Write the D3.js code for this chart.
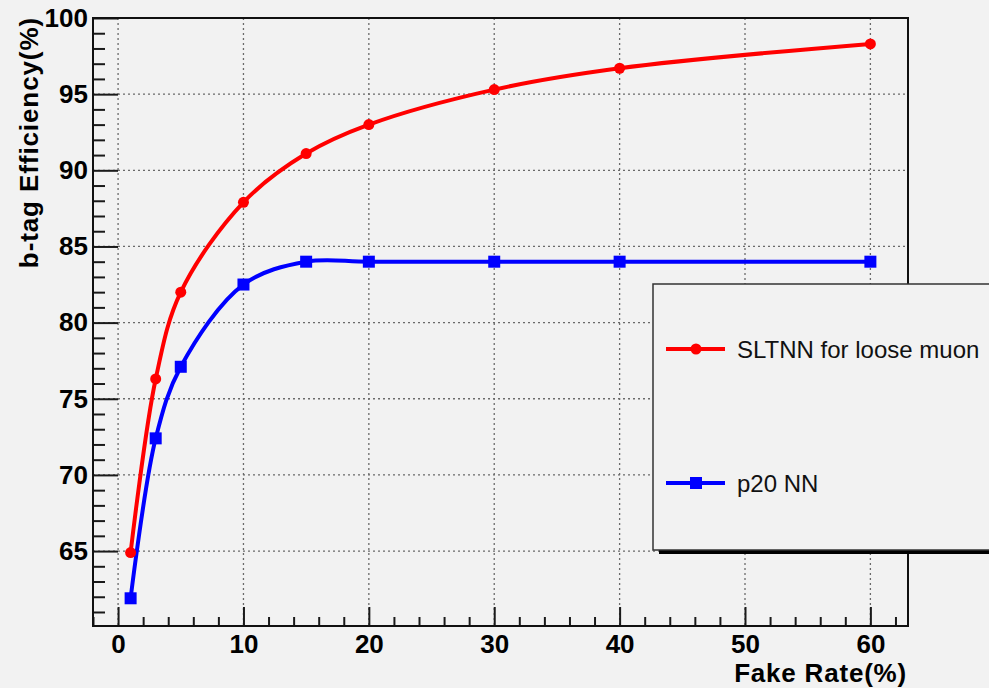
<!DOCTYPE html>
<html>
<head>
<meta charset="utf-8">
<script src="https://cdn.jsdelivr.net/npm/d3@7"></script>
<style>
  html, body { margin: 0; padding: 0; background: #f2f2f2; }
  svg { display: block; }
  text { font-family: "Liberation Sans", Arial, Helvetica, sans-serif; }
</style>
</head>
<body>
<svg id="chart" width="989" height="688"></svg>
<script>
// ---- data ----
const fakeRate = [1, 3, 5, 10, 15, 20, 30, 40, 60];
const sltnnEff = [64.9, 76.3, 82.0, 87.9, 91.1, 93.0, 95.3, 96.7, 98.3];
const p20Eff   = [61.9, 72.4, 77.1, 82.5, 84.0, 84.0, 84.0, 84.0, 84.0];
const seriesNames = ["SLTNN for loose muon", "p20 NN"];
const xTickValues = [0, 10, 20, 30, 40, 50, 60];
const yTickValues = [65, 70, 75, 80, 85, 90, 95, 100];
const xTitle = "Fake Rate(%)";
const yTitle = "b-tag Efficiency(%)";

// ---- layout ----
const W = 989, H = 688;
const L = 93, R = 908, T = 18, B = 626;
const svg = d3.select("#chart");
svg.append("rect").attr("width", W).attr("height", H).attr("fill", "#f2f2f2");

const x = d3.scaleLinear().domain([-2, 63]).range([L, R]);
const y = d3.scaleLinear().domain([60.08, 100]).range([B, T]);

// grid
const grid = svg.append("g").attr("stroke", "#6a6a6a").attr("stroke-width", 1.3)
  .attr("stroke-dasharray", "2,3");
grid.selectAll(".gx").data(xTickValues).join("line")
  .attr("x1", d => x(d)).attr("x2", d => x(d)).attr("y1", T).attr("y2", B);
grid.selectAll(".gy").data(yTickValues).join("line")
  .attr("x1", L).attr("x2", R).attr("y1", d => y(d)).attr("y2", d => y(d));

// minor ticks
const xMinor = d3.range(-2, 63.01, 2).filter(v => v % 10 !== 0);
const yMinor = d3.range(61, 100, 1).filter(v => v % 5 !== 0);

const xMinorAxis = d3.axisBottom(x).tickValues(xMinor).tickSizeInner(-9).tickSizeOuter(0).tickFormat("");
const yMinorAxis = d3.axisLeft(y).tickValues(yMinor).tickSizeInner(-12).tickSizeOuter(0).tickFormat("");
svg.append("g").attr("transform", `translate(0,${B})`).call(xMinorAxis)
  .call(g => g.select(".domain").remove())
  .selectAll("line").attr("stroke", "#1a1a1a").attr("stroke-width", 2);
svg.append("g").attr("transform", `translate(${L},0)`).call(yMinorAxis)
  .call(g => g.select(".domain").remove())
  .selectAll("line").attr("stroke", "#1a1a1a").attr("stroke-width", 2);

// major axes
const xAxis = d3.axisBottom(x).tickValues(xTickValues).tickSizeInner(-19).tickSizeOuter(0).tickPadding(9);
const yAxis = d3.axisLeft(y).tickValues(yTickValues).tickSizeInner(-25).tickSizeOuter(0).tickPadding(5);
const gx = svg.append("g").attr("transform", `translate(0,${B})`).call(xAxis);
const gy = svg.append("g").attr("transform", `translate(${L},0)`).call(yAxis);
[gx, gy].forEach(g => {
  g.select(".domain").remove();
  g.selectAll("line").attr("stroke", "#1a1a1a").attr("stroke-width", 2);
  g.selectAll("text").attr("font-size", 26).attr("font-weight", "bold").attr("fill", "#000")
    .attr("font-family", "Liberation Sans, Arial, sans-serif");
});

// frame
svg.append("rect").attr("x", L).attr("y", T).attr("width", R - L).attr("height", B - T)
  .attr("fill", "none").attr("stroke", "#111").attr("stroke-width", 2);

// clip for curves
svg.append("clipPath").attr("id", "clip").append("rect")
  .attr("x", L).attr("y", T).attr("width", R - L).attr("height", B - T);

const line = d3.line().x(d => x(d[0])).y(d => y(d[1])).curve(d3.curveCatmullRom.alpha(0.5));
const redPts = fakeRate.map((v, i) => [v, sltnnEff[i]]);
const bluePts = fakeRate.map((v, i) => [v, p20Eff[i]]);

const plot = svg.append("g").attr("clip-path", "url(#clip)");
plot.append("path").datum(redPts).attr("d", line).attr("fill", "none")
  .attr("stroke", "#ff0000").attr("stroke-width", 4);
plot.append("path").datum(bluePts).attr("d", line).attr("fill", "none")
  .attr("stroke", "#0000ff").attr("stroke-width", 4);
plot.selectAll(".rc").data(redPts).join("circle")
  .attr("cx", d => x(d[0])).attr("cy", d => y(d[1])).attr("r", 5.5).attr("fill", "#ff0000");
plot.selectAll(".bs").data(bluePts).join("rect")
  .attr("x", d => x(d[0]) - 6).attr("y", d => y(d[1]) - 6).attr("width", 12).attr("height", 12)
  .attr("fill", "#0000ff");

// axis titles
svg.append("text").attr("x", 907).attr("y", 682).attr("text-anchor", "end")
  .attr("font-size", 26).attr("font-weight", "bold").attr("letter-spacing", 0.8).text(xTitle);
svg.append("text").attr("transform", "translate(38,17) rotate(-90)").attr("text-anchor", "end")
  .attr("font-size", 26).attr("font-weight", "bold").attr("letter-spacing", 0.9).text(yTitle);

// legend
const lx = 653, ly = 284, lw = 345, lh = 266;
svg.append("rect").attr("x", lx + 6).attr("y", ly + 4).attr("width", lw).attr("height", lh)
  .attr("fill", "#000");
svg.append("rect").attr("x", lx).attr("y", ly).attr("width", lw).attr("height", lh)
  .attr("fill", "#f2f2f2").attr("stroke", "#333").attr("stroke-width", 1.5);
const legendItems = [
  { name: seriesNames[0], color: "#ff0000", marker: "circle", cy: 349 },
  { name: seriesNames[1], color: "#0000ff", marker: "square", cy: 483 }
];
legendItems.forEach(it => {
  svg.append("line").attr("x1", 666).attr("x2", 725).attr("y1", it.cy).attr("y2", it.cy)
    .attr("stroke", it.color).attr("stroke-width", 4);
  if (it.marker === "circle") {
    svg.append("circle").attr("cx", 696).attr("cy", it.cy).attr("r", 5.5).attr("fill", it.color);
  } else {
    svg.append("rect").attr("x", 690).attr("y", it.cy - 6).attr("width", 12).attr("height", 12).attr("fill", it.color);
  }
  svg.append("text").attr("x", 737).attr("y", it.cy + 9).attr("font-size", 24)
    .attr("fill", "#111").text(it.name);
});
</script>
</body>
</html>
